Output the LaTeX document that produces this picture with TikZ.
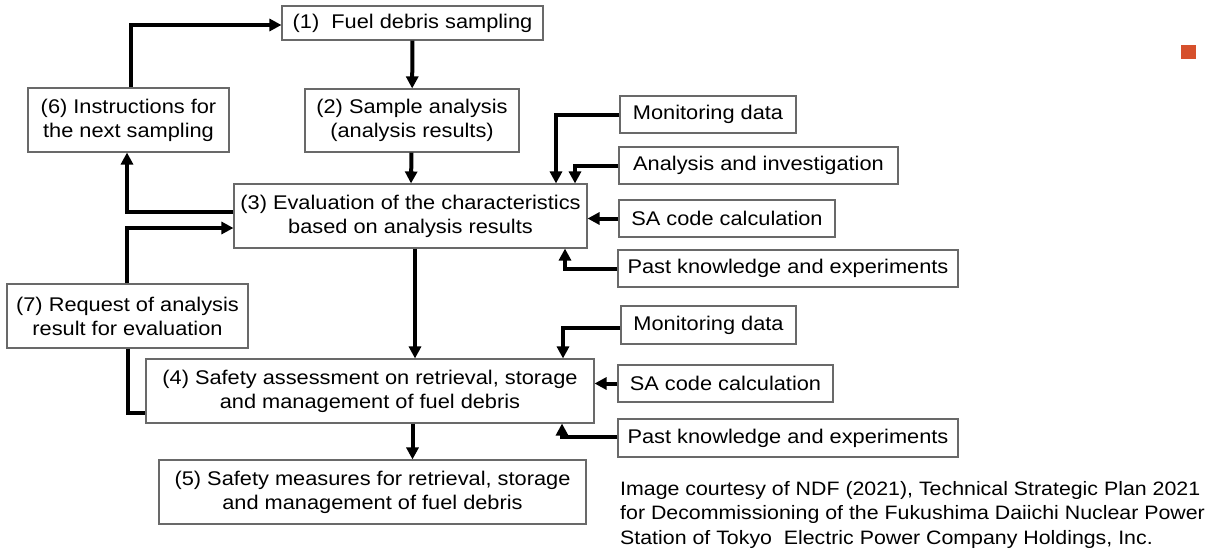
\documentclass[tikz,border=0pt]{standalone}
\usepackage{fontspec}
\setmainfont[FakeStretch=1.1]{Liberation Sans}
\usetikzlibrary{positioning, calc, arrows.meta}
\definecolor{ndfBorder}{RGB}{105,105,105}
\definecolor{ndfOrange}{RGB}{214,80,44}

\begin{document}
\begin{tikzpicture}[x=1pt, y=-1pt,
    box/.style={draw=ndfBorder, line width=1.1pt, fill=white, align=center, inner sep=0pt, font=\fontsize{19.8}{24}\selectfont},
    flow/.style={-{Triangle[length=12pt,width=12pt]}, line width=4pt, black},
    link/.style={line width=4pt, black}]
  \useasboundingbox (0,0) rectangle (1208,549);

  % main column
  \node[box, minimum width=261pt, minimum height=34pt] (fuel) at (412.5,23) {(1)\ \ Fuel debris sampling};
  \node[box, minimum width=214pt, minimum height=63pt] (sample) at (412,120.5) {(2) Sample analysis\\(analysis results)};
  \node[box, minimum width=353pt, minimum height=64pt] (evalchar) at (410.5,216) {(3) Evaluation of the characteristics\\based on analysis results};
  \node[box, minimum width=448pt, minimum height=64pt] (safety) at (370,391) {(4) Safety assessment on retrieval, storage\\and management of fuel debris};
  \node[box, minimum width=427pt, minimum height=64pt] (measures) at (372.5,492) {(5) Safety measures for retrieval, storage\\and management of fuel debris};
  \node[box, minimum width=201pt, minimum height=64pt] (instr) at (128.5,120) {(6) Instructions for\\the next sampling};
  \node[box, minimum width=241pt, minimum height=64pt] (request) at (127.5,316) {(7) Request of analysis\\result for evaluation};

  % inputs to (3)
  \node[box, minimum width=176pt, minimum height=37pt] (monA) at (708,114.5) {Monitoring data};
  \node[box, minimum width=279pt, minimum height=37pt] (anaA) at (758.5,165.5) {Analysis and investigation};
  \node[box, minimum width=216pt, minimum height=37pt] (saA) at (727,218.5) {SA code calculation};
  \node[box, minimum width=340pt, minimum height=37pt] (pastA) at (788,268.5) {Past knowledge and experiments};

  % inputs to (4)
  \node[box, minimum width=175pt, minimum height=38pt] (monB) at (708.5,325) {Monitoring data};
  \node[box, minimum width=215pt, minimum height=37pt] (saB) at (725.5,383.5) {SA code calculation};
  \node[box, minimum width=340pt, minimum height=38pt] (pastB) at (788,438) {Past knowledge and experiments};

  \node[align=left, anchor=north west, inner sep=0pt, font=\fontsize{19.4}{24.5}\selectfont] (credit) at (620,481)
    {Image courtesy of NDF (2021), Technical Strategic Plan 2021\\for Decommissioning of the Fukushima Daiichi Nuclear Power\\Station of Tokyo\ \ Electric Power Company Holdings, Inc.};
  \fill[ndfOrange] (1181,45) rectangle (1196,59);

  \draw[flow] (fuel) -- (sample);
  \draw[flow] (sample) -- (evalchar);
  \draw[flow] ([xshift=4.5pt]evalchar.south) -- ([xshift=4.5pt]evalchar.south |- safety.north);
  \draw[flow] (fuel.south |- safety.south) -- (fuel.south |- measures.north);
  \draw[flow] ([xshift=2.5pt]instr.north) |- ([yshift=-2pt]fuel.west);
  \draw[flow] ([yshift=4pt]evalchar.west) -| ([xshift=-1.5pt]instr.south);
  \draw[flow] ([xshift=-0.5pt]request.north) |- ([yshift=-12pt]evalchar.west);
  \draw[link] ([xshift=0.5pt]request.south) |- ([yshift=-22pt]safety.west);

  \draw[flow] (monA.west) -| ([xshift=145.5pt]evalchar.north);
  \draw[flow] (anaA.west) -| ([xshift=164.5pt]evalchar.north);
  \draw[flow] (saA.west) -- (saA.west -| evalchar.east);
  \draw[flow] (pastA.west) -| ([xshift=154.5pt]evalchar.south);

  \draw[flow] ([yshift=-3pt]monB.west) -| ([xshift=193pt]safety.north);
  \draw[flow] (saB.west) -- (saB.west -| safety.east);
  \draw[flow] ([yshift=1pt]pastB.west) -| ([xshift=192pt]safety.south);
\end{tikzpicture}
\end{document}
